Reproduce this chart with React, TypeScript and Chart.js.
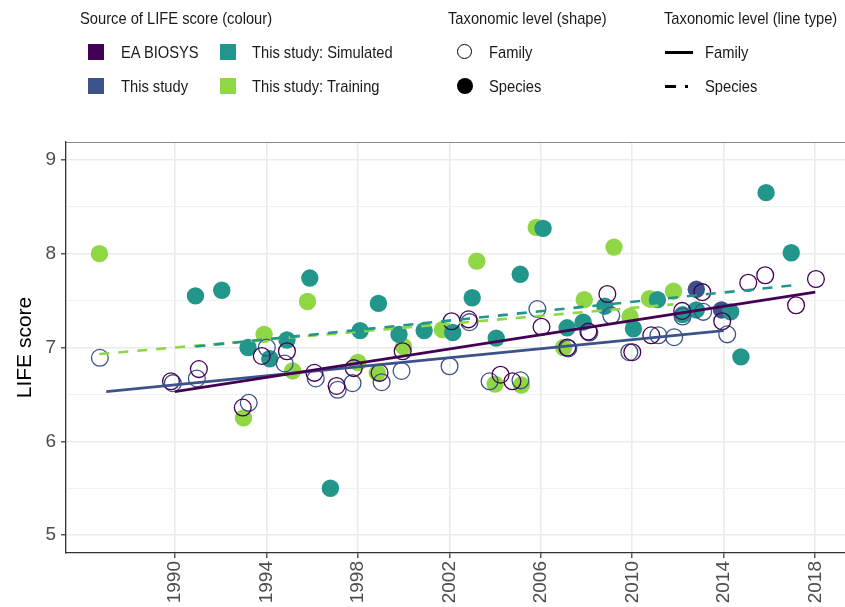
import React, { useEffect, useRef } from 'react';
import { Chart, registerables } from 'chart.js';

Chart.register(...registerables);

// ---------- data ----------
const xTickValues = [1990, 1994, 1998, 2002, 2006, 2010, 2014, 2018];
const yTickValues = [5, 5.5, 6, 6.5, 7, 7.5, 8, 8.5, 9];

// EA BIOSYS, Family (open circles)
const eaFamilyYears = [1989.83, 1991.05, 1992.97, 1993.8, 1994.9, 1996.1, 1997.07, 1997.82, 1998.95, 1999.96, 2002.1, 2002.84, 2004.24, 2004.76, 2006.03, 2007.16, 2008.08, 2008.91, 2010.0, 2010.83, 2012.18, 2013.06, 2013.93, 2015.07, 2015.81, 2017.16, 2018.03];
const eaFamilyScores = [6.64, 6.77, 6.36, 6.91, 6.96, 6.73, 6.59, 6.78, 6.73, 6.96, 7.28, 7.3, 6.71, 6.64, 7.22, 7.0, 7.17, 7.57, 6.95, 7.13, 7.39, 7.59, 7.28, 7.69, 7.77, 7.45, 7.73];

// This study, Family (open circles)
const studyFamilyYears = [1986.72, 1989.91, 1990.96, 1993.23, 1994.02, 1994.8, 1996.16, 1997.12, 1997.77, 1999.04, 1999.91, 2002.01, 2002.88, 2003.76, 2005.11, 2005.85, 2007.2, 2008.12, 2009.08, 2009.87, 2011.14, 2011.83, 2012.2, 2013.1, 2014.15];
const studyFamilyScores = [6.89, 6.62, 6.67, 6.41, 7.0, 6.83, 6.67, 6.55, 6.62, 6.63, 6.75, 6.8, 7.27, 6.64, 6.65, 7.41, 6.99, 7.16, 7.34, 6.95, 7.13, 7.11, 7.33, 7.38, 7.14];

// This study, Species (filled)
const studySpeciesYears = [2012.8, 2013.9];
const studySpeciesScores = [7.62, 7.4];

// This study: Simulated, Species (filled)
const simYears = [1990.9, 1992.05, 1993.2, 1994.15, 1994.9, 1995.9, 1996.8, 1998.1, 1998.9, 1999.8, 2000.9, 2002.15, 2003.0, 2004.05, 2005.1, 2006.1, 2007.15, 2007.85, 2008.8, 2010.05, 2011.1, 2012.2, 2012.8, 2014.3, 2014.75, 2015.85, 2016.95];
const simScores = [7.55, 7.61, 7.0, 6.88, 7.08, 7.74, 5.5, 7.18, 7.47, 7.14, 7.18, 7.16, 7.53, 7.1, 7.78, 8.27, 7.21, 7.27, 7.44, 7.2, 7.51, 7.35, 7.4, 7.38, 6.9, 8.65, 8.01];

// This study: Training, Species (filled)
const trainYears = [1986.7, 1993.0, 1993.9, 1995.15, 1995.8, 1998.0, 1998.85, 2000.0, 2001.7, 2003.2, 2004.0, 2005.15, 2005.8, 2007.0, 2007.9, 2009.2, 2009.9, 2010.75, 2011.8];
const trainScores = [8.0, 6.25, 7.14, 6.75, 7.49, 6.84, 6.73, 7.01, 7.19, 7.92, 6.61, 6.6, 8.28, 7.0, 7.51, 8.07, 7.33, 7.52, 7.6];

// Fitted trend lines (start / end)
const eaLineYears = [1990.0, 2018.0];
const eaLineScores = [6.53, 7.59];
const studyLineYears = [1987.0, 2014.0];
const studyLineScores = [6.53, 7.18];
const simLineYears = [1990.9, 2016.95];
const simLineScores = [7.01, 7.66];
const trainLineYears = [1986.7, 2011.8];
const trainLineScores = [6.93, 7.46];

// ---------- styles ----------
const C_EA = '#440154';
const C_STUDY = '#3B528B';
const C_SIM = '#22968A';
const C_TRAIN = '#8FD744';
const FONT = "'Liberation Sans', Arial, Helvetica, sans-serif";

const pts = (xs: number[], ys: number[]) => xs.map((x, i) => ({ x, y: ys[i] }));

const panelBorder = {
  id: 'panelBorder',
  beforeDatasetsDraw(chart: any) {
    const { ctx, chartArea } = chart;
    ctx.save();
    ctx.strokeStyle = '#8A8A8A';
    ctx.lineWidth = 1;
    ctx.beginPath();
    ctx.moveTo(chartArea.left, chartArea.top + 0.5);
    ctx.lineTo(chartArea.right, chartArea.top + 0.5);
    ctx.stroke();
    ctx.restore();
  },
};

function lineDs(xs: number[], ys: number[], color: string, dash: number[]) {
  return {
    type: 'line' as const,
    data: pts(xs, ys),
    borderColor: color,
    borderWidth: 2.6,
    borderDash: dash,
    pointRadius: 0,
    showLine: true,
    fill: false,
  };
}

function openDs(xs: number[], ys: number[], color: string) {
  return {
    data: pts(xs, ys),
    pointStyle: 'circle',
    pointRadius: 8.4,
    pointBorderWidth: 1.3,
    pointBorderColor: color,
    pointBackgroundColor: 'rgba(0,0,0,0)',
    borderColor: color,
    backgroundColor: 'rgba(0,0,0,0)',
  };
}

function filledDs(xs: number[], ys: number[], color: string) {
  return {
    data: pts(xs, ys),
    pointStyle: 'circle',
    pointRadius: 8.7,
    pointBorderWidth: 0,
    pointBackgroundColor: color,
    backgroundColor: color,
    borderColor: color,
  };
}

const Txt = ({ x, y, children, size = 17 }: any) => (
  <div
    style={{
      position: 'absolute',
      left: x,
      top: y,
      transform: 'translateY(-50%) scaleX(0.865)',
      transformOrigin: '0 50%',
      fontFamily: FONT,
      fontSize: size,
      color: '#1A1A1A',
      whiteSpace: 'nowrap',
      lineHeight: 1,
    }}
  >
    {children}
  </div>
);

const Sq = ({ x, y, color }: any) => (
  <div style={{ position: 'absolute', left: x, top: y - 8, width: 16, height: 16, background: color }} />
);

export default function App() {
  const ref = useRef<HTMLCanvasElement>(null);

  useEffect(() => {
    if (!ref.current) return;
    const chart = new Chart(ref.current, {
      type: 'scatter',
      data: {
        datasets: [
          lineDs(eaLineYears, eaLineScores, C_EA, []),
          lineDs(studyLineYears, studyLineScores, C_STUDY, []),
          lineDs(simLineYears, simLineScores, C_SIM, [10, 9]),
          lineDs(trainLineYears, trainLineScores, C_TRAIN, [10, 9]),
          openDs(eaFamilyYears, eaFamilyScores, C_EA),
          openDs(studyFamilyYears, studyFamilyScores, C_STUDY),
          filledDs(simYears, simScores, C_SIM),
          filledDs(studySpeciesYears, studySpeciesScores, C_STUDY),
          filledDs(trainYears, trainScores, C_TRAIN),
        ] as any,
      },
      options: {
        animation: false,
        responsive: false,
        maintainAspectRatio: false,
        layout: { autoPadding: false, padding: { top: 142, right: 0, left: 0, bottom: 0 } },
        plugins: { legend: { display: false }, tooltip: { enabled: false } },
        scales: {
          x: {
            type: 'linear',
            min: 1985.24,
            max: 2019.3,
            afterBuildTicks: (s: any) => {
              s.ticks = xTickValues.map((v) => ({ value: v }));
            },
            afterFit: (s: any) => {
              s.height = 54;
              s.paddingLeft = 0;
              s.paddingRight = 0;
            },
            ticks: {
              callback: (v: any) => String(v),
              minRotation: 90,
              maxRotation: 90,
              autoSkip: false,
              padding: 3,
              color: '#4D4D4D',
              font: { family: FONT, size: 19 },
            },
            grid: {
              color: '#EBEBEB',
              lineWidth: 1.6,
              tickLength: 5,
              tickColor: '#333333',
              tickWidth: 1.2,
            },
            border: { color: '#333333', width: 1.3 },
          },
          y: {
            type: 'linear',
            min: 4.81,
            max: 9.19,
            afterBuildTicks: (s: any) => {
              s.ticks = yTickValues.map((v) => ({ value: v }));
            },
            afterFit: (s: any) => {
              s.width = 66;
            },
            ticks: {
              callback: (v: any) => (Number(v) % 1 === 0 ? String(v) : ''),
              padding: 5,
              color: '#4D4D4D',
              font: { family: FONT, size: 19 },
            },
            grid: {
              color: (c: any) => (c.tick && c.tick.value % 1 === 0 ? '#EBEBEB' : '#F1F1F1'),
              lineWidth: (c: any) => (c.tick && c.tick.value % 1 === 0 ? 1.6 : 1),
              tickLength: 5,
              tickColor: (c: any) => (c.tick && c.tick.value % 1 === 0 ? '#333333' : 'rgba(0,0,0,0)'),
              tickWidth: 1.2,
            },
            border: { color: '#333333', width: 1.3 },
            title: {
              display: true,
              text: 'LIFE score',
              color: '#000000',
              font: { family: FONT, size: 21 },
              padding: { top: 13, bottom: 0 },
            },
          },
        },
      } as any,
      plugins: [panelBorder],
    });
    return () => chart.destroy();
  }, []);

  return (
    <div style={{ position: 'absolute', left: 0, top: 0, width: 845, height: 607, background: '#FFFFFF', overflow: 'hidden' }}>
      <canvas ref={ref} width={845} height={607} style={{ position: 'absolute', left: 0, top: 0, width: 845, height: 607 }} />
      {/* colour legend */}
      <Txt x={80} y={18}>Source of LIFE score (colour)</Txt>
      <Sq x={88} y={52} color={C_EA} />
      <Txt x={121} y={52}>EA BIOSYS</Txt>
      <Sq x={220} y={52} color={C_SIM} />
      <Txt x={252} y={52}>This study: Simulated</Txt>
      <Sq x={88} y={86} color={C_STUDY} />
      <Txt x={121} y={86}>This study</Txt>
      <Sq x={220} y={86} color={C_TRAIN} />
      <Txt x={252} y={86}>This study: Training</Txt>
      {/* shape legend */}
      <Txt x={448} y={18}>Taxonomic level (shape)</Txt>
      <div style={{ position: 'absolute', left: 457, top: 44, width: 13.4, height: 13.4, borderRadius: '50%', border: '1.3px solid #000' }} />
      <Txt x={489} y={52}>Family</Txt>
      <div style={{ position: 'absolute', left: 457, top: 78, width: 16, height: 16, borderRadius: '50%', background: '#000' }} />
      <Txt x={489} y={86}>Species</Txt>
      {/* line type legend */}
      <Txt x={664} y={18}>Taxonomic level (line type)</Txt>
      <div style={{ position: 'absolute', left: 665, top: 51, width: 28, height: 2.6, background: '#000' }} />
      <Txt x={705} y={52}>Family</Txt>
      <div style={{ position: 'absolute', left: 665, top: 85, width: 11, height: 2.6, background: '#000' }} />
      <div style={{ position: 'absolute', left: 685, top: 85, width: 3, height: 2.6, background: '#000' }} />
      <Txt x={705} y={86}>Species</Txt>
    </div>
  );
}
